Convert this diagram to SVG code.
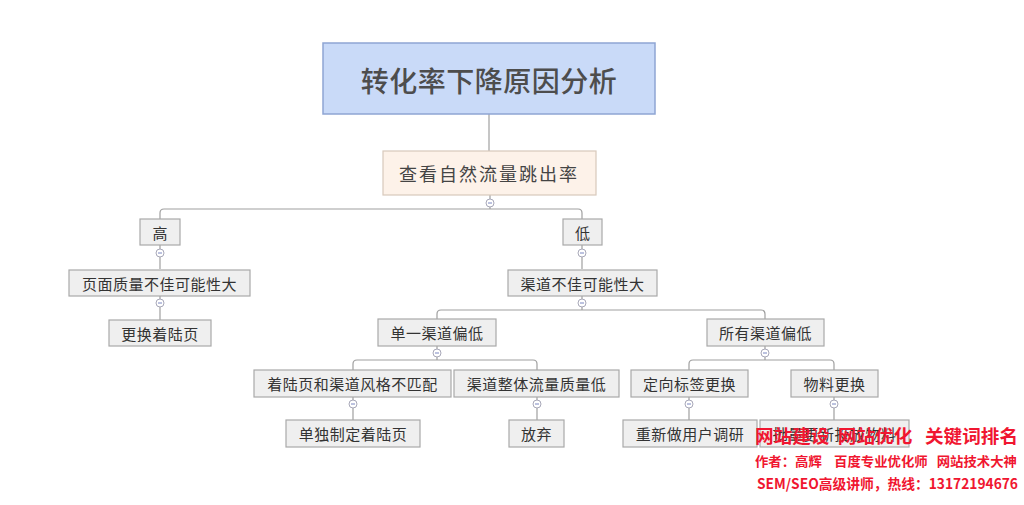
<svg xmlns="http://www.w3.org/2000/svg" width="1024" height="505" viewBox="0 0 1024 505">
<style>
.n rect{fill:#efefef;stroke:#a9a9a9;stroke-width:1.2}
.n text{font-family:"Noto Sans CJK SC",sans-serif;font-size:15px;fill:#333;text-anchor:middle;dominant-baseline:central}
.c path{fill:none;stroke:#a0a0a0;stroke-width:1.2}
.m circle{fill:#fff;stroke:#a8a8b8;stroke-width:1}
.m path{stroke:#7a86c0;stroke-width:1}
.w{font-family:"Noto Sans CJK SC",sans-serif;fill:#f01630;font-weight:bold}
</style>
<rect width="1024" height="505" fill="#fff"/>
<g class="c" id="connectors">
<path d="M489,114V151"/>
<path d="M490,195V199M490,207V209M160,219V213Q160,209 164,209H578Q582,209 582,213V219"/>
<path d="M160,245V249M160,257V269"/>
<path d="M160,296V299M160,307V320"/>
<path d="M582,245V249M582,257V269"/>
<path d="M582,296V299M582,307V310M437,319V314Q437,310 441,310H761Q765,310 765,314V319"/>
<path d="M437,346V349M437,357V360M353,370V364Q353,360 357,360H533Q537,360 537,364V370"/>
<path d="M765,346V349M765,357V360M689,370V364Q689,360 693,360H830Q834,360 834,364V370"/>
<path d="M353,397V400M353,408V420"/>
<path d="M537,397V400M537,408V420"/>
<path d="M689,397V400M689,408V420"/>
<path d="M834,397V400M834,408V420"/>
</g>
<g class="m" id="toggles">
<g><circle cx="490" cy="203" r="4"/><path d="M488,203H492"/></g>
<g><circle cx="160" cy="253" r="4"/><path d="M158,253H162"/></g>
<g><circle cx="160" cy="303" r="4"/><path d="M158,303H162"/></g>
<g><circle cx="582" cy="253" r="4"/><path d="M580,253H584"/></g>
<g><circle cx="582" cy="303" r="4"/><path d="M580,303H584"/></g>
<g><circle cx="437" cy="353" r="4"/><path d="M435,353H439"/></g>
<g><circle cx="765" cy="353" r="4"/><path d="M763,353H767"/></g>
<g><circle cx="353" cy="404" r="4"/><path d="M351,404H355"/></g>
<g><circle cx="537" cy="404" r="4"/><path d="M535,404H539"/></g>
<g><circle cx="689" cy="404" r="4"/><path d="M687,404H691"/></g>
<g><circle cx="834" cy="404" r="4"/><path d="M832,404H836"/></g>
</g>
<g id="root">
<rect x="323" y="43" width="332" height="71" fill="#c9daf8" stroke="#8ea5d3" stroke-width="1.5"/>
<text x="489" y="80" font-family="Noto Sans CJK SC,sans-serif" font-size="28" font-weight="500" fill="#4d4d4d" text-anchor="middle" dominant-baseline="central" letter-spacing="0.5">转化率下降原因分析</text>
</g>
<g id="n1">
<rect x="383" y="151" width="213" height="44" fill="#fdf2e9" stroke="#d8c9bb" stroke-width="1.2"/>
<text x="489" y="173" font-family="Noto Sans CJK SC,sans-serif" font-size="18" fill="#444" text-anchor="middle" dominant-baseline="central" letter-spacing="2">查看自然流量跳出率</text>
</g>
<g class="n" id="n-high"><rect x="140" y="219" width="40" height="26"/><text x="160" y="232">高</text></g>
<g class="n" id="n-high-1"><rect x="69" y="270" width="181" height="26"/><text x="159.5" y="283" letter-spacing="0.5">页面质量不佳可能性大</text></g>
<g class="n" id="n-high-2"><rect x="109" y="320" width="102" height="26"/><text x="160" y="333" letter-spacing="0.5">更换着陆页</text></g>
<g class="n" id="n-low"><rect x="563" y="219" width="39" height="26"/><text x="582.5" y="232">低</text></g>
<g class="n" id="n-low-1"><rect x="508" y="270" width="149" height="26"/><text x="582.5" y="283" letter-spacing="0.5">渠道不佳可能性大</text></g>
<g class="n" id="n-single"><rect x="378" y="319" width="118" height="27"/><text x="437" y="332.5" letter-spacing="0.5">单一渠道偏低</text></g>
<g class="n" id="n-all"><rect x="707" y="319" width="117" height="27"/><text x="765.5" y="332.5" letter-spacing="0.5">所有渠道偏低</text></g>
<g class="n" id="n-style"><rect x="254" y="370" width="197" height="27"/><text x="352.5" y="383.5" letter-spacing="0.5">着陆页和渠道风格不匹配</text></g>
<g class="n" id="n-quality"><rect x="454" y="370" width="165" height="27"/><text x="536.5" y="383.5" letter-spacing="0.5">渠道整体流量质量低</text></g>
<g class="n" id="n-target"><rect x="631" y="370" width="117" height="27"/><text x="689.5" y="383.5" letter-spacing="0.5">定向标签更换</text></g>
<g class="n" id="n-material"><rect x="791" y="370" width="87" height="27"/><text x="834.5" y="383.5" letter-spacing="0.5">物料更换</text></g>
<g class="n" id="n-landing"><rect x="286" y="420" width="134" height="27"/><text x="353" y="433.5" letter-spacing="0.5">单独制定着陆页</text></g>
<g class="n" id="n-abandon"><rect x="509" y="420" width="55" height="27"/><text x="536.5" y="433.5" letter-spacing="0.5">放弃</text></g>
<g class="n" id="n-research"><rect x="623" y="420" width="134" height="27"/><text x="690" y="433.5" letter-spacing="0.5">重新做用户调研</text></g>
<g class="n" id="n-batch"><rect x="760" y="420" width="149" height="27"/><text x="834.5" y="433.5" letter-spacing="0.5">批量更新投放物料</text></g>
<g id="watermark">
<text class="w" x="755" y="443" font-size="18" textLength="263" lengthAdjust="spacingAndGlyphs" xml:space="preserve">网站建设  网站优化   关键词排名</text>
<text class="w" x="755" y="466" font-size="13" font-weight="normal" textLength="262" lengthAdjust="spacingAndGlyphs" xml:space="preserve">作者：高辉    百度专业优化师   网站技术大神</text>
<text class="w" x="757" y="489" font-size="14" textLength="261" lengthAdjust="spacingAndGlyphs">SEM/SEO高级讲师，热线：13172194676</text>
</g>
</svg>
